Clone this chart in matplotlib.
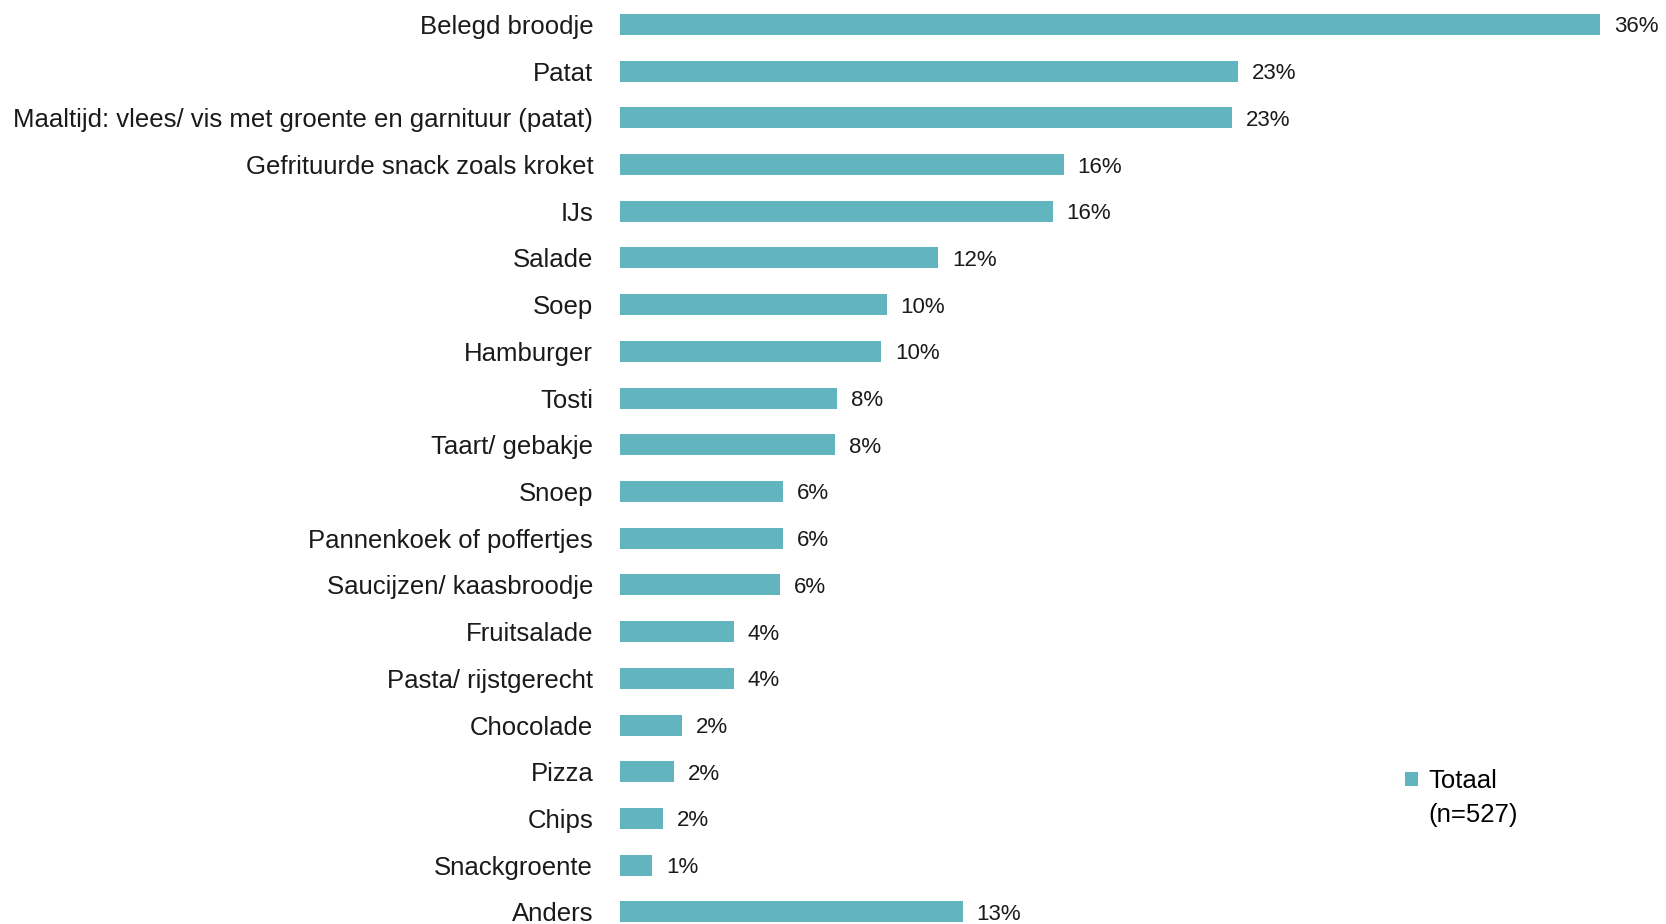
import matplotlib.pyplot as plt
from matplotlib.patches import Patch

# categories top to bottom
categories = [
    "Belegd broodje", "Patat",
    "Maaltijd: vlees/ vis met groente en garnituur (patat)",
    "Gefrituurde snack zoals kroket", "IJs", "Salade", "Soep", "Hamburger",
    "Tosti", "Taart/ gebakje", "Snoep", "Pannenkoek of poffertjes",
    "Saucijzen/ kaasbroodje", "Fruitsalade", "Pasta/ rijstgerecht",
    "Chocolade", "Pizza", "Chips", "Snackgroente", "Anders",
]
values = [36.0, 22.7, 22.5, 16.3, 15.9, 11.7, 9.8, 9.6, 8.0, 7.9,
          6.0, 6.0, 5.9, 4.2, 4.2, 2.3, 2.0, 1.6, 1.2, 12.6]
value_labels = ["36%", "23%", "23%", "16%", "16%", "12%", "10%", "10%", "8%", "8%",
                "6%", "6%", "6%", "4%", "4%", "2%", "2%", "2%", "1%", "13%"]

bar_color = "#62B4BE"
plt.rcParams['font.family'] = ['Liberation Sans', 'DejaVu Sans']

fig = plt.figure(figsize=(16.66, 9.24), dpi=100)
ax = fig.add_axes([0.3719, 0, 0.6281, 1])

pos = list(range(len(categories)))
ax.barh(pos, values, height=0.45, color=bar_color)

for p, v, lab in zip(pos, values, value_labels):
    ax.annotate(lab, xy=(v, p), xytext=(10, 0), textcoords="offset points",
                ha="left", va="center_baseline", fontsize=16, color="#1a1a1a")

ax.set_xlim(0, 38.42)
ax.set_ylim(19.26, -0.523)
ax.set_yticks(pos)
ax.set_yticklabels(categories, fontsize=18.5, color="#1a1a1a")
for t in ax.get_yticklabels():
    t.set_verticalalignment("center_baseline")
ax.tick_params(axis="y", length=0, pad=19)
ax.set_xticks([])
for s in ax.spines.values():
    s.set_visible(False)

handles = [Patch(facecolor=bar_color, edgecolor="none"),
           Patch(facecolor="none", edgecolor="none")]
fig.legend(handles, ["Totaal", "(n=527)"], loc="upper left",
           bbox_to_anchor=(1405 / 1666, 1 - 769 / 924), frameon=False,
           fontsize=18.5, handlelength=0.5, handleheight=0.5, handletextpad=0.4,
           labelspacing=0.4, borderaxespad=0, borderpad=0)

fig.savefig("out.png", dpi=100)
